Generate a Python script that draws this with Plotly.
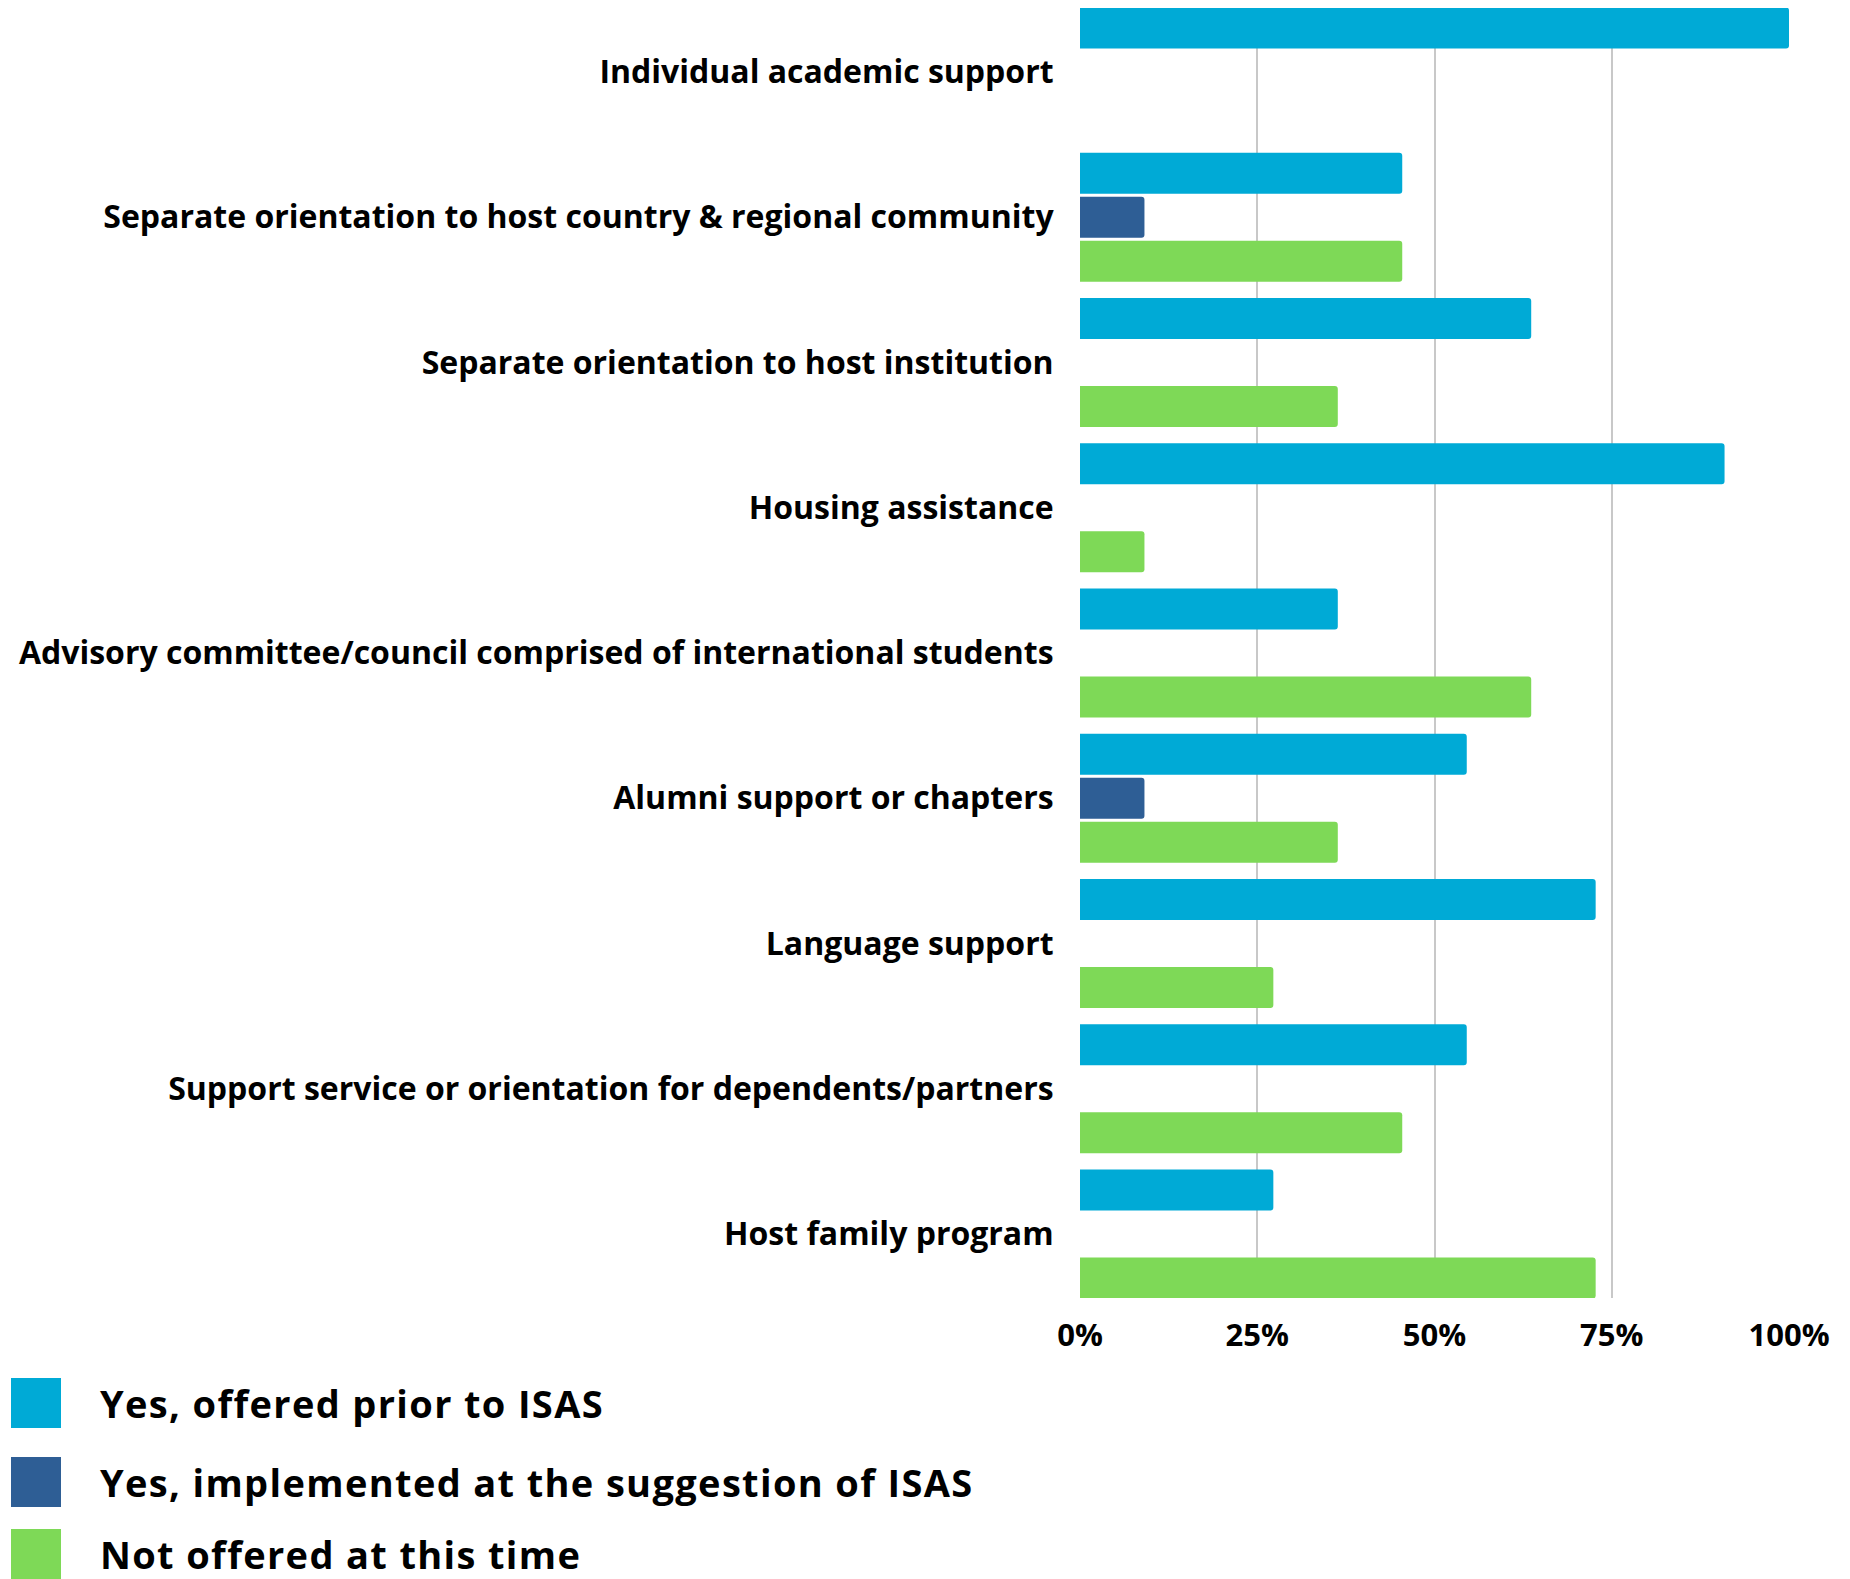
import plotly.graph_objects as go

# Survey results: share of institutions offering each service (n = 11)
services = [
    "Individual academic support",
    "Separate orientation to host country & regional community",
    "Separate orientation to host institution",
    "Housing assistance",
    "Advisory committee/council comprised of international students",
    "Alumni support or chapters",
    "Language support",
    "Support service or orientation for dependents/partners",
    "Host family program",
]
offered_prior = [100.0, 45.45, 63.64, 90.91, 36.36, 54.55, 72.73, 54.55, 27.27]
implemented_isas = [0.0, 9.09, 0.0, 0.0, 0.0, 9.09, 0.0, 0.0, 0.0]
not_offered = [0.0, 45.45, 36.36, 9.09, 63.64, 36.36, 27.27, 45.45, 72.73]

series_names = [
    "Yes, offered prior to ISAS",
    "Yes, implemented at the suggestion of ISAS",
    "Not offered at this time",
]
series_colors = ["#00AAD6", "#2E5E95", "#7ED957"]
series_values = [offered_prior, implemented_isas, not_offered]

x_ticks = [0, 25, 50, 75, 100]
x_tick_labels = ["0%", "25%", "50%", "75%", "100%"]

W, H = 1850, 1579
L, R, T, B = 1080, 61, 8, 281

FONT = "Open Sans"

fig = go.Figure()
for name, color, vals in zip(series_names, series_colors, series_values):
    fig.add_trace(go.Bar(
        y=services,
        x=vals,
        name=name,
        orientation="h",
        marker=dict(color=color, line=dict(width=0), cornerradius=3),
        showlegend=False,
        hovertemplate="%{y}: %{x:.1f}%<extra>" + name + "</extra>",
    ))

fig.update_layout(
    width=W,
    height=H,
    margin=dict(l=L, r=R, t=T, b=B, pad=0, autoexpand=False),
    barmode="group",
    bargap=0.092,
    bargroupgap=0.068,
    plot_bgcolor="white",
    paper_bgcolor="white",
    font=dict(family=FONT, color="black"),
)

fig.update_xaxes(
    range=[0, 100],
    tickvals=x_ticks,
    ticktext=x_tick_labels,
    showgrid=True,
    gridcolor="#C8C8C8",
    gridwidth=1.5,
    zeroline=False,
    showline=False,
    ticks="outside",
    ticklen=10,
    tickcolor="rgba(0,0,0,0)",
    tickfont=dict(family=FONT, size=31, color="black", weight="bold"),
    automargin=False,
    fixedrange=True,
)

fig.update_yaxes(
    type="category",
    categoryorder="array",
    categoryarray=services,
    range=[8.44, -0.44],
    showgrid=False,
    zeroline=False,
    showline=False,
    ticks="outside",
    ticklen=19,
    tickcolor="rgba(0,0,0,0)",
    tickfont=dict(family=FONT, size=32, color="black", weight="bold"),
    automargin=False,
    fixedrange=True,
)

# Legend drawn below the chart with large colour swatches
plot_w = W - L - R
plot_h = H - T - B


def px_to_paper_x(px):
    return (px - L) / plot_w


def px_to_paper_y(py):
    return (H - B - py) / plot_h


legend_rows_y = [1403, 1482, 1554]
swatch = 50
for name, color, cy in zip(series_names, series_colors, legend_rows_y):
    fig.add_shape(
        type="rect",
        xref="paper", yref="paper",
        x0=px_to_paper_x(11), x1=px_to_paper_x(11 + swatch),
        y0=px_to_paper_y(cy - swatch / 2), y1=px_to_paper_y(cy + swatch / 2),
        fillcolor=color,
        line=dict(width=0),
        layer="above",
    )
    fig.add_annotation(
        xref="paper", yref="paper",
        x=px_to_paper_x(98), y=px_to_paper_y(cy),
        xanchor="left", yanchor="middle",
        align="left",
        text=name,
        showarrow=False,
        font=dict(family=FONT, size=38, color="black", weight="bold"),
    )

# Slightly tracked-out lettering for the legend labels
legend_tracking = (
    "document.querySelectorAll('.annotation-text').forEach("
    "function(t){t.style.letterSpacing='1.35px';});"
)

fig.write_html("out.html", post_script=legend_tracking)
